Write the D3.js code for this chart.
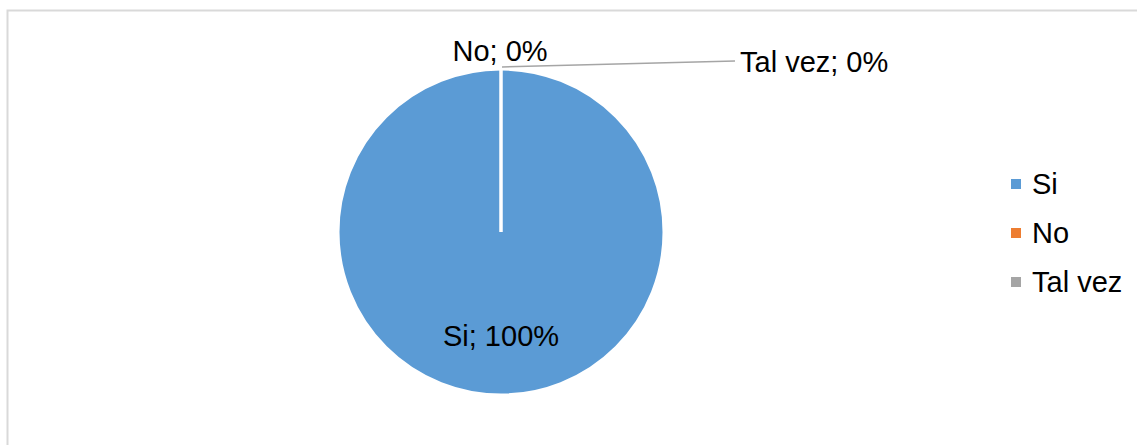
<!DOCTYPE html>
<html>
<head>
<meta charset="utf-8">
<script src="https://cdn.jsdelivr.net/npm/d3@7"></script>
<style>
  body { margin: 0; background: #fff; }
  text { font-family: "Liberation Sans", Arial, sans-serif; fill: #000; }
</style>
</head>
<body>
<div id="chart"></div>
<script>
/**
 * CONSTANTS AND DATA
 * */
const width = 1137,
  height = 445,
  fontSize = 29;

const categories = ["Si", "No", "Tal vez"];
const values = [100, 0, 0];
const labels = ["Si; 100%", "No; 0%", "Tal vez; 0%"];
const colors = ["#5b9bd5", "#ed7d31", "#a5a5a5"];

const cx = 501, cy = 232, radius = 163;

const svg = d3.select("#chart")
  .append("svg")
  .attr("width", width)
  .attr("height", height);

// chart area border (runs off the right and bottom)
svg.append("rect")
  .attr("x", 7.5)
  .attr("y", 10.5)
  .attr("width", 1300)
  .attr("height", 600)
  .attr("fill", "none")
  .attr("stroke", "#d9d9d9")
  .attr("stroke-width", 2);

const colorScale = d3.scaleOrdinal().domain(categories).range(colors);

const pie = d3.pie().sort(null).value(d => d.value);
const data = categories.map((c, i) => ({ name: c, value: values[i], label: labels[i] }));
const arcs = pie(data);

const arc = d3.arc().innerRadius(0).outerRadius(radius);

const g = svg.append("g").attr("transform", `translate(${cx},${cy})`);

g.selectAll("path.slice")
  .data(arcs)
  .join("path")
  .attr("class", "slice")
  .attr("d", arc)
  .attr("fill", d => colorScale(d.data.name))
  .attr("stroke", "#fff")
  .attr("stroke-width", 3)
  .attr("stroke-linejoin", "miter");

// labels: big slice inside, zero slices outside at the top
const inner = d3.arc().innerRadius(radius * 0.64).outerRadius(radius * 0.64);
const outerPt = d3.arc().innerRadius(radius + 2).outerRadius(radius + 2);

// offsets for zero-size slices, relative to the slice edge
const labelOffsets = { "No": [-1, -10], "Tal vez": [239, -6] };

arcs.forEach(d => {
  if (d.data.value > 0) {
    const [x, y] = inner.centroid(d);
    g.append("text")
      .attr("x", x)
      .attr("y", y)
      .attr("text-anchor", "middle")
      .attr("dominant-baseline", "central")
      .attr("font-size", fontSize)
      .text(d.data.label);
  } else {
    const [ex, ey] = outerPt.centroid(d);
    const [dx, dy] = labelOffsets[d.data.name];
    if (d.data.name === "Tal vez") {
      g.append("line")
        .attr("x1", ex + 1)
        .attr("y1", ey)
        .attr("x2", ex + dx - 5)
        .attr("y2", ey + dy)
        .attr("stroke", "#a5a5a5")
        .attr("stroke-width", 1.5);
      g.append("text")
        .attr("x", ex + dx)
        .attr("y", ey + dy + 11)
        .attr("text-anchor", "start")
        .attr("font-size", fontSize)
        .text(d.data.label);
    } else {
      g.append("text")
        .attr("x", ex + dx)
        .attr("y", ey + dy + 4)
        .attr("text-anchor", "middle")
        .attr("font-size", fontSize)
        .text(d.data.label);
    }
  }
});

// legend
const legendY = d3.scalePoint().domain(categories).range([184, 282]);

const legend = svg.append("g")
  .selectAll("g")
  .data(categories)
  .join("g")
  .attr("transform", d => `translate(1011,${legendY(d)})`);

legend.append("rect")
  .attr("x", 0)
  .attr("y", -5)
  .attr("width", 10)
  .attr("height", 10)
  .attr("fill", d => colorScale(d));

legend.append("text")
  .attr("x", 21)
  .attr("y", 10)
  .attr("font-size", fontSize)
  .text(d => d);
</script>
</body>
</html>
